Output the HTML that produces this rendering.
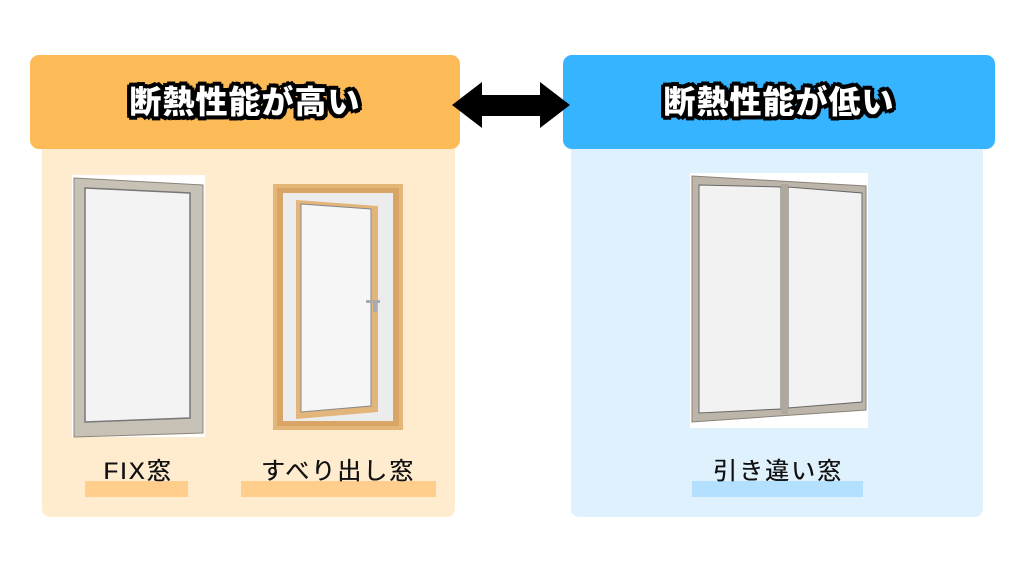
<!DOCTYPE html>
<html><head><meta charset="utf-8"><style>
*{margin:0;padding:0;box-sizing:border-box}
body{width:1024px;height:576px;background:#fff;position:relative;overflow:hidden;font-family:"Liberation Sans","Noto Sans CJK JP",sans-serif}
.a{position:absolute}
.title{color:#fff;font-weight:900;font-size:32px;text-align:center;line-height:94px;text-shadow:2px 2px 0 #000,-2px -2px 0 #000,2px -2px 0 #000,-2px 2px 0 #000,3px 0 0 #000,-3px 0 0 #000,0 3px 0 #000,0 -3px 0 #000,4px 2px 0 #000,-4px 2px 0 #000,2px 4px 0 #000,-2px 4px 0 #000,4px -2px 0 #000,-4px -2px 0 #000,2px -4px 0 #000,-2px -4px 0 #000;letter-spacing:1px}
.lbl{font-size:24px;color:#111;text-align:center;letter-spacing:2px;text-shadow:0.4px 0 0 #111}
</style></head><body>
<div class="a" style="left:42px;top:140px;width:413px;height:377px;background:#FFEBCD;border-radius:0 0 8px 8px"></div>
<div class="a" style="left:571px;top:140px;width:412px;height:377px;background:#DFF1FD;border-radius:0 0 8px 8px"></div>
<div class="a title" style="left:30px;top:55px;width:430px;height:94px;background:#FDBB57;border-radius:9px">断熱性能が高い</div>
<div class="a title" style="left:563px;top:55px;width:432px;height:94px;background:#36B4FF;border-radius:9px">断熱性能が低い</div>
<svg class="a" style="left:0;top:0" width="1024" height="576">
<polygon points="452,105 482,82 482,95 540,95 540,82 570,105 540,128 540,116 482,116 482,128" fill="#000"/>
<rect x="72" y="175" width="133" height="262" fill="#fff"/>
<polygon points="74,178 203,185 203,433 74,437" fill="#c8c2b6" stroke="#8d857a" stroke-width="1"/>
<polygon points="85,188 190,193 190,418 85,422" fill="#f3f3f3" stroke="#777" stroke-width="1.5"/>
<rect x="273" y="184" width="130" height="246" fill="#e4b677"/>
<rect x="277" y="188" width="122" height="238" fill="#d9a566"/>
<rect x="283" y="193" width="110" height="228" fill="#ececec"/>
<polygon points="296,200 378,206 378,412 296,419" fill="#e2b57a"/>
<polygon points="301,204 371,209 371,406 301,412" fill="#f6f6f6" stroke="#888" stroke-width="1"/>
<rect x="366" y="300" width="14" height="3" fill="#aaa"/><rect x="373" y="300" width="4" height="12" fill="#aaa"/>
<rect x="690" y="173" width="178" height="255" fill="#fff"/>
<polygon points="692,176 866,186 866,410 692,422" fill="#bdb5a9" stroke="#8a8278" stroke-width="1"/>
<polygon points="699,185 781,187 781,409 699,413" fill="#f2f2f2" stroke="#666" stroke-width="1"/>
<polygon points="788,187 862,193 862,402 788,408" fill="#f2f2f2" stroke="#666" stroke-width="1"/>
<rect x="781" y="184" width="7" height="230" fill="#b0a89c"/>
<rect x="85" y="481" width="103" height="16" fill="#FFCE8C"/>
<rect x="241" y="481" width="195" height="16" fill="#FFCE8C"/>
<rect x="692" y="481" width="171" height="16" fill="#B3E0FF"/>
</svg>
<div class="a lbl" style="left:70px;top:451px;width:136px">FIX窓</div>
<div class="a lbl" style="left:236px;top:451px;width:204px">すべり出し窓</div>
<div class="a lbl" style="left:688px;top:451px;width:180px">引き違い窓</div>
</body></html>
